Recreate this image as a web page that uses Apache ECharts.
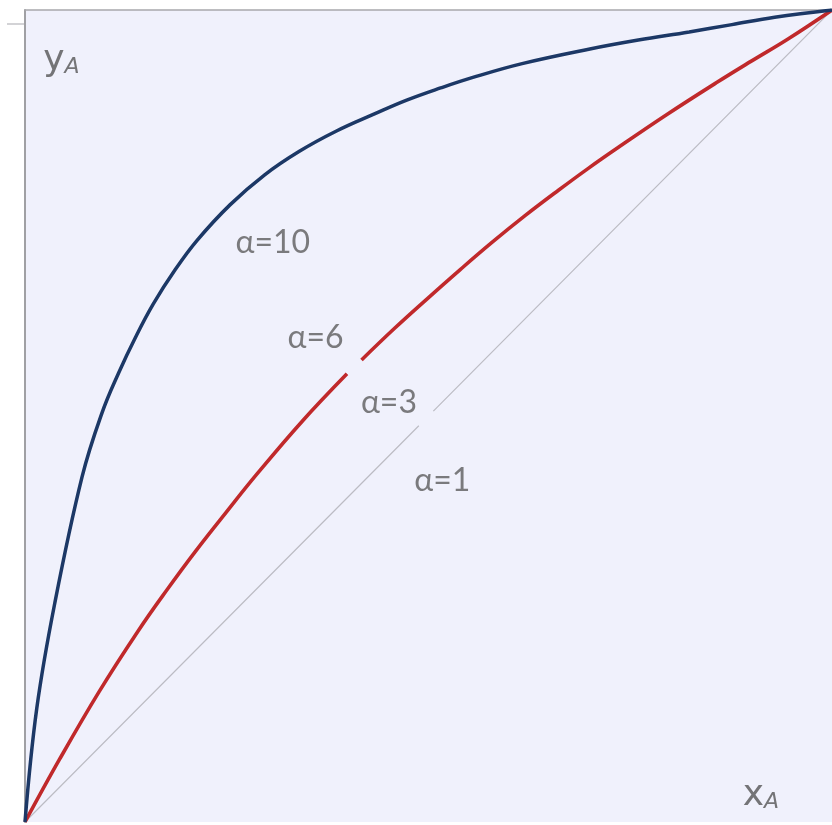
<!DOCTYPE html>
<html>
<head>
<meta charset="utf-8">
<script src="https://cdn.jsdelivr.net/npm/echarts@6/dist/echarts.min.js"></script>
<style>html,body{margin:0;padding:0;background:#fff}#c{width:832px;height:825px}</style>
</head>
<body>
<div id="c"></div>
<script>
// data (xA, yA)
var alpha10 = [[0,0],[0.0146,0.14],[0.037,0.27],[0.0707,0.425],[0.0951,0.503],[0.116,0.553],[0.137,0.597],[0.159,0.638],[0.186,0.680],[0.213,0.716],[0.254,0.760],[0.297,0.797],[0.34,0.826],[0.386,0.851],[0.433,0.872],[0.473,0.889],[0.515,0.904],[0.555,0.917],[0.616,0.934],[0.70,0.952],[0.76,0.963],[0.823,0.973],[0.876,0.982],[0.929,0.991],[1,1]];
var alphaRed = [[0,0],[0.0427,0.077],[0.0915,0.160],[0.140,0.235],[0.176,0.286],[0.211,0.333],[0.249,0.381],[0.287,0.428],[0.343,0.493],[0.399,0.552],null,[0.417,0.569],[0.458,0.608],[0.498,0.644],[0.539,0.680],[0.579,0.714],[0.620,0.747],[0.661,0.778],[0.698,0.805],[0.734,0.830],[0.795,0.871],[0.856,0.910],[0.90,0.937],[0.945,0.964],[1,1]];
var alpha1 = [[0,0],[0.488,0.488],null,[0.506,0.506],[1,1]];
var curveLabels = [[0.307,0.713,'α=10'],[0.360,0.596,'α=6'],[0.451,0.516,'α=3'],[0.517,0.420,'α=1']];
var axisLabels = [[0.045,0.938,'y','A'],[0.912,0.033,'x','A']];

var chart = echarts.init(document.getElementById('c'));
chart.setOption({
  backgroundColor: '#ffffff',
  animation: false,
  grid: {left: 25, top: 10, width: 820, height: 812, show: true, backgroundColor: '#f0f1fc', borderWidth: 0},
  xAxis: [
    {type: 'value', min: 0, max: 1, show: true, axisLine: {show: false}, axisTick: {show: false}, axisLabel: {show: false}, splitLine: {show: false}},
    {type: 'value', min: 0, max: 1, position: 'top', axisLine: {show: true, lineStyle: {color: '#a8a8ac', width: 1.5}}, axisTick: {show: false}, axisLabel: {show: false}, splitLine: {show: false}}
  ],
  yAxis: {type: 'value', min: 0, max: 1, axisLine: {show: true, lineStyle: {color: '#a0a0a4', width: 2}}, axisTick: {show: false}, axisLabel: {show: false}, splitLine: {show: false}},
  graphic: [{type: 'line', shape: {x1: 7, y1: 24, x2: 25, y2: 24}, style: {stroke: '#c4c4c8', lineWidth: 1.5}}],
  series: [
    {type: 'line', data: alpha1, showSymbol: false, connectNulls: false, lineStyle: {color: '#bcbcc4', width: 1.2}, silent: true},
    {type: 'line', data: alphaRed, smooth: 0.4, showSymbol: false, connectNulls: false, lineStyle: {color: '#c0292b', width: 3.6}, silent: true},
    {type: 'line', data: alpha10, smooth: 0.4, showSymbol: false, lineStyle: {color: '#1c3866', width: 3.5}, silent: true},
    {type: 'scatter', data: curveLabels, symbolSize: 0, silent: true,
      label: {show: true, position: 'inside', formatter: function(p){return p.data[2];}, color: '#5c5c5c', fontSize: 32, fontFamily: 'Lato, "Noto Sans", sans-serif'}},
    {type: 'scatter', data: axisLabels, symbolSize: 0, silent: true,
      label: {show: true, position: 'inside', formatter: function(p){return '{m|' + p.data[2] + '}{s|' + p.data[3] + '}';},
        rich: {m: {color: '#555', fontSize: 36, fontFamily: '"DejaVu Sans", sans-serif'}, s: {color: '#555', fontSize: 22, fontStyle: 'italic', fontFamily: '"DejaVu Sans", sans-serif', padding: [14, 0, 0, 0]}}}}
  ]
});
</script>
</body>
</html>
